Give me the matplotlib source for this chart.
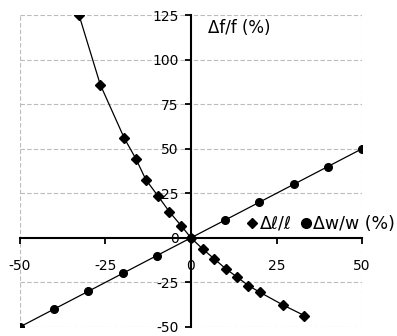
import matplotlib
matplotlib.use('Agg')
import matplotlib.pyplot as plt
from matplotlib.lines import Line2D

plt.rcParams['font.family'] = ['DejaVu Sans']

# dl/l (%) vs df/f (%)
len_x = [-32.7, -26.5, -19.5, -16.1, -13.2, -9.6, -6.3, -2.9, 0,
         3.4, 6.8, 10.2, 13.4, 16.8, 20.1, 27.0, 33.1]
len_y = [125, 86, 56, 44.4, 32.7, 23.4, 14.6, 6.9, 0,
         -6.2, -11.8, -17.4, -21.9, -26.8, -30.5, -37.8, -43.6]

# dw/w (%) vs df/f (%)
wid_x = [-50, -40, -30, -20, -10, 0, 10, 20, 30, 40, 50]
wid_y = [-50, -40, -30, -20, -10, 0, 10, 20, 30, 40, 50]

xticks = [-50, -25, 0, 25, 50]
yticks = [-50, -25, 0, 25, 50, 75, 100, 125]

fig = plt.figure(figsize=(3.97, 3.36), dpi=100)
ax = fig.add_axes([0.050, 0.027, 0.862, 0.928])

ax.plot(len_x, len_y, color='black', linewidth=0.9, marker='D',
        markersize=4.8, zorder=3)
ax.plot(wid_x, wid_y, color='black', linewidth=0.9, marker='o',
        markersize=5.5, zorder=3)

ax.set_xlim(-50, 50)
ax.set_ylim(-50, 125)
ax.set_xticks(xticks)
ax.set_yticks(yticks)

# gridlines and dashed frame
for y in yticks:
    if y != 0:
        ax.axhline(y, color='#bbbbbb', linestyle=(0, (4, 2)), linewidth=0.8, zorder=0)
for x in [-50, 50]:
    ax.axvline(x, color='#bbbbbb', linestyle=(0, (4, 2)), linewidth=0.8, zorder=0)

ax.spines['left'].set_position(('data', 0))
ax.spines['bottom'].set_position(('data', 0))
ax.spines['right'].set_visible(False)
ax.spines['top'].set_visible(False)
for s in ['left', 'bottom']:
    ax.spines[s].set_linewidth(1.5)
    ax.spines[s].set_zorder(2)

ax.tick_params(axis='both', direction='out', length=4, width=1.3,
               labelsize=10, colors='black')
ax.tick_params(axis='x', pad=11)
ax.tick_params(axis='y', pad=5)
ax.set_yticklabels([str(v) for v in yticks])
ax.set_xticklabels([str(v) for v in xticks])

ax.text(5, 118, '\u0394f/f (%)', fontsize=12, ha='left', va='center')

handles = [
    Line2D([], [], color='black', marker='D', linestyle='none', markersize=5.5),
    Line2D([], [], color='black', marker='o', linestyle='none', markersize=7),
]
ax.legend(handles, ['\u0394\u2113/\u2113', '\u0394w/w (%)'], ncol=2,
          frameon=False, fontsize=12.5, handlelength=0.6, handletextpad=0.15,
          columnspacing=0.5, borderpad=0, loc='center left',
          bbox_to_anchor=(238 / 397, 1 - 224 / 336),
          bbox_transform=fig.transFigure)

fig.savefig('out.png', dpi=100)
